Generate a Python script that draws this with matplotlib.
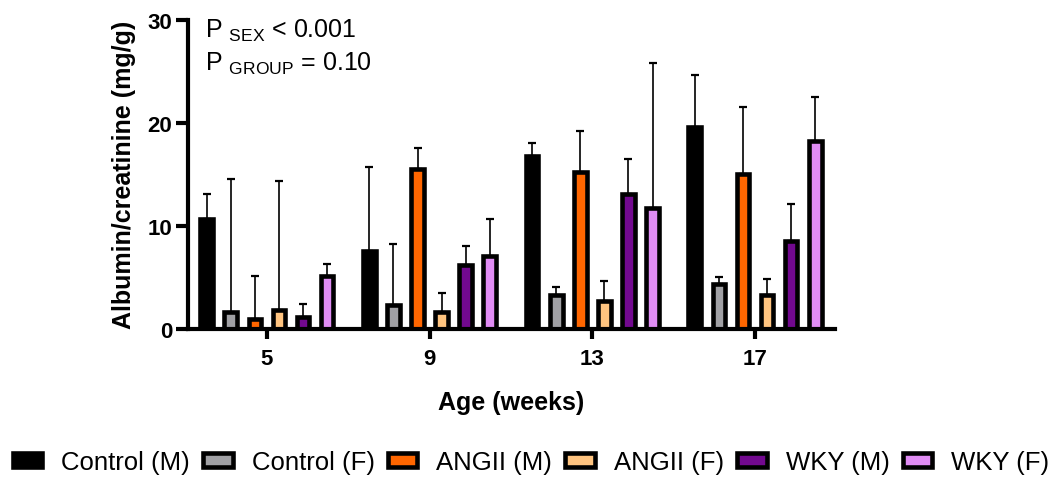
import matplotlib
matplotlib.use("Agg")
import matplotlib.pyplot as plt
import numpy as np

plt.rcParams['font.family'] = ['Liberation Sans', 'DejaVu Sans']
plt.rcParams['mathtext.fontset'] = 'custom'
plt.rcParams['mathtext.rm'] = 'Liberation Sans'

# Age groups (weeks) and series
ages = ['5', '9', '13', '17']
groups = ['Control (M)', 'Control (F)', 'ANGII (M)', 'ANGII (F)', 'WKY (M)', 'WKY (F)']
colors = ['#000000', '#a0a0a4', '#ff6600', '#ffc480', '#72098f', '#e08cf4']

# mean albumin/creatinine (mg/g) per group, one value per age
control_m = [10.7, 7.6, 16.8, 19.6]
control_f = [1.65, 2.35, 3.3, 4.4]
angii_m = [1.0, 15.5, 15.2, 15.0]
angii_f = [1.85, 1.65, 2.7, 3.3]
wky_m = [1.2, 6.2, 13.1, 8.5]
wky_f = [5.1, 7.1, 11.7, 18.2]

# upper error (SD) per group
control_m_err = [2.4, 8.1, 1.2, 5.0]
control_f_err = [12.9, 5.9, 0.8, 0.65]
angii_m_err = [4.1, 2.1, 4.0, 6.5]
angii_f_err = [12.55, 1.85, 2.0, 1.5]
wky_m_err = [1.2, 1.8, 3.4, 3.6]
wky_f_err = [1.2, 3.6, 14.1, 4.3]

means = [control_m, control_f, angii_m, angii_f, wky_m, wky_f]
errs = [control_m_err, control_f_err, angii_m_err, angii_f_err, wky_m_err, wky_f_err]

fig = plt.figure(figsize=(10.62, 4.81), dpi=100)
ax = fig.add_axes([0.177, 0.314, 0.609, 0.643])

x = np.arange(len(ages))
step = 0.148
width = 0.078

for i, (m, e, c, lab) in enumerate(zip(means, errs, colors, groups)):
    pos = x + (i - 2.5) * step
    ax.errorbar(pos, m, yerr=[np.zeros(len(m)), e], fmt='none', ecolor='black',
                elinewidth=1.2, capsize=3, capthick=1.6, zorder=1)
    ax.bar(pos, m, width=width, color=c, edgecolor='black', linewidth=3.3,
           label=lab, zorder=2)

ax.set_xlim(-0.485, 3.49)
ax.set_ylim(0, 30)
ax.set_yticks([0, 10, 20, 30])
ax.set_xticks(x)
ax.set_xticklabels(ages)

for s in ['top', 'right']:
    ax.spines[s].set_visible(False)
for s in ['left', 'bottom']:
    ax.spines[s].set_linewidth(3)
    ax.spines[s].set_zorder(3)

ax.tick_params(axis='y', length=8.5, width=3, pad=3, labelsize=16)
ax.tick_params(axis='x', length=7.5, width=3, pad=6, labelsize=16)
for lbl in ax.get_xticklabels() + ax.get_yticklabels():
    lbl.set_fontweight('bold')

ax.set_xlabel('Age (weeks)', fontsize=18, fontweight='bold', labelpad=15)
ax.set_ylabel('Albumin/creatinine (mg/g)', fontsize=18, fontweight='bold', labelpad=8)

ax.text(0.026, 1.01, r'P $_{\mathrm{SEX}}$ < 0.001', transform=ax.transAxes,
        fontsize=18, va='top', ha='left')
ax.text(0.026, 0.903, r'P $_{\mathrm{GROUP}}$ = 0.10', transform=ax.transAxes,
        fontsize=18, va='top', ha='left')

fig.legend(loc='center', bbox_to_anchor=(0.5, 0.037), ncol=6, frameon=False,
           fontsize=18.5, handlelength=1.15, handleheight=0.45, handletextpad=0.75,
           columnspacing=0.5, borderaxespad=0)

fig.savefig('out.png', dpi=100)
